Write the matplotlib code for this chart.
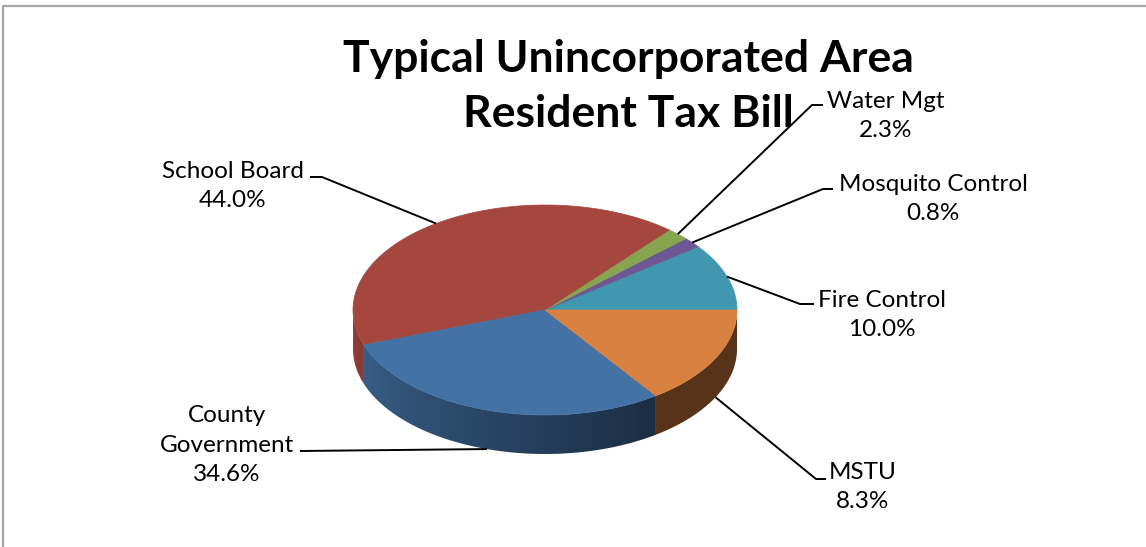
import numpy as np
import matplotlib.pyplot as plt
from matplotlib.patches import Polygon
from matplotlib.colors import to_rgb

# Slices in drawing order, counter-clockwise from 3 o'clock
categories = ['Fire Control', 'Mosquito Control', 'Water Mgt', 'School Board',
              'County\nGovernment', 'MSTU']
pct_labels = [10.0, 0.8, 2.3, 44.0, 34.6, 8.3]
# slice sizes as they are drawn in the chart
slice_share = [10.3, 1.6, 1.9, 41.6, 29.4, 15.2]
colors = ['#4197AF', '#6E5792', '#87A54E', '#A5463F', '#4472A5', '#D98140']

# label block centres and leader-line elbows (pixel layout)
label_pos = [(882, 315), (933, 199), (886, 116), (233, 186), (227, 445), (863, 487)]
elbows = [[(800, 304), (814, 304)],
          [(823, 189), (833, 189)],
          [(812, 105), (823, 105)],
          [(322, 177), (310, 177)],
          [(300, 451)],
          [(816, 479), (826, 479)]]

# pie geometry in pixels
cx, cy = 545, 310
rx, ry = 192, 105
depth = 39

font = ['Lato', 'DejaVu Sans']

fig = plt.figure(figsize=(11.46, 5.47), dpi=100)
ax = fig.add_axes([0, 0, 1, 1])

# chart frame
ax.plot([3, 3, 1146], [547, 6, 6], color='#A6A6A6', lw=1.6)


def rim(deg, down=0):
    t = np.radians(deg)
    return cx + rx * np.cos(t), cy - ry * np.sin(t) + down


def shade(deg):
    # side wall gets darker towards the right
    return np.clip(0.9 - (deg - 180) / 125 * 0.5, 0.4, 0.9)


bounds = np.concatenate([[0], np.cumsum(slice_share)]) / sum(slice_share) * 360

# side walls (only the front half is visible), shaded with a clipped gradient
xcol = np.linspace(cx - rx, cx + rx, 400)
col_angle = 360 - np.degrees(np.arccos(np.clip((xcol - cx) / rx, -1, 1)))
for i, col in enumerate(colors):
    lo = max(bounds[i], 180)
    hi = min(bounds[i + 1], 360)
    if lo >= hi:
        continue
    ts = np.linspace(lo, hi, 200)
    verts = [rim(t) for t in ts] + [rim(t, depth) for t in ts[::-1]]
    wall = Polygon(verts, closed=True, facecolor='none', edgecolor='none')
    ax.add_patch(wall)
    grad = np.array(to_rgb(col))[None, None, :] * shade(col_angle)[None, :, None]
    im = ax.imshow(grad, extent=(cx - rx, cx + rx, cy + ry + depth, cy - ry),
                   aspect='auto', interpolation='bilinear')
    im.set_clip_path(wall)

# top faces
for i, col in enumerate(colors):
    ts = np.linspace(bounds[i], bounds[i + 1], 100)
    pts = [(cx, cy)] + [rim(t) for t in ts]
    ax.add_patch(Polygon(pts, closed=True, facecolor=col, edgecolor=col, lw=0.5))

# labels and leader lines
for i, name in enumerate(categories):
    mid = (bounds[i] + bounds[i + 1]) / 2
    ax_x, ax_y = rim(mid, depth if 180 < mid < 360 else 0)
    xs = [ax_x] + [p[0] for p in elbows[i]]
    ys = [ax_y] + [p[1] for p in elbows[i]]
    ax.plot(xs, ys, color='black', lw=1.4, solid_capstyle='butt')
    ax.text(label_pos[i][0], label_pos[i][1], f'{name}\n{pct_labels[i]:.1f}%',
            ha='center', va='center', fontsize=17.5, family=font,
            linespacing=1.5, color='black')

# title
ax.text(628, 72, 'Typical Unincorporated Area', ha='center', va='baseline',
        fontsize=32, fontweight='bold', family=font)
ax.text(628, 127, 'Resident Tax Bill', ha='center', va='baseline',
        fontsize=32, fontweight='bold', family=font)

ax.set_xlim(0, 1146)
ax.set_ylim(547, 0)
ax.axis('off')

fig.savefig('out.png', dpi=100)
